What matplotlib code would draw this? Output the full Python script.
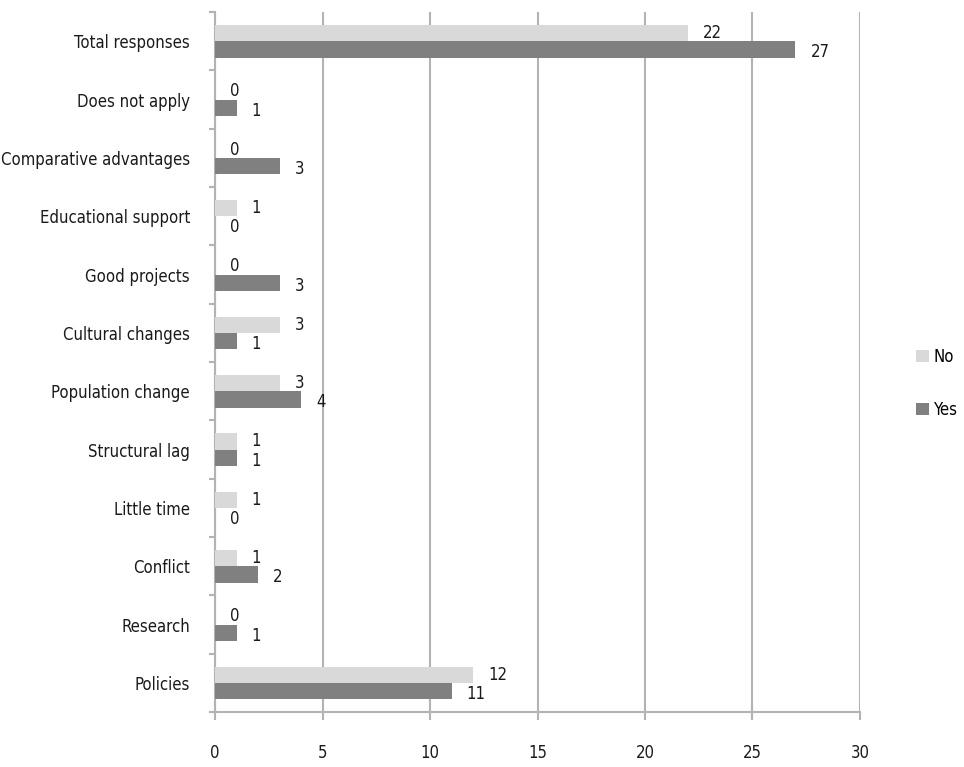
import matplotlib.pyplot as plt
from matplotlib import font_manager
import numpy as np

# use a narrow face if one is installed, else plain Liberation Sans
fam, stretch, fs = 'Liberation Sans', 'normal', 12
for cand in ['Liberation Sans Narrow', 'DejaVu Sans']:
    try:
        p = font_manager.findfont(font_manager.FontProperties(family=cand, stretch='condensed'),
                                  fallback_to_default=False)
    except ValueError:
        continue
    if 'Narrow' in p or 'Condensed' in p:
        fam, stretch, fs = cand, 'condensed', 13 if cand.startswith('Lib') else 12
        break
plt.rcParams['font.family'] = [fam, 'Liberation Sans', 'DejaVu Sans']
plt.rcParams['font.stretch'] = stretch

categories = ["Total responses", "Does not apply", "Comparative advantages",
              "Educational support", "Good projects", "Cultural changes",
              "Population change", "Structural lag", "Little time", "Conflict",
              "Research", "Policies"]
no_vals = [22, 0, 0, 1, 0, 3, 3, 1, 1, 1, 0, 12]
yes_vals = [27, 1, 3, 0, 3, 1, 4, 1, 0, 2, 1, 11]

grid_c = '#b3b3b3'
fig = plt.figure(figsize=(9.64, 7.67), dpi=100)
ax = fig.add_axes([215 / 964, 55 / 767, 645 / 964, 700 / 767])

y = np.arange(len(categories))
h = 0.28
b_no = ax.barh(y - h / 2, no_vals, height=h, color='#d9d9d9', label='No', zorder=3)
b_yes = ax.barh(y + h / 2, yes_vals, height=h, color='#808080', label='Yes', zorder=3)

for bars, vals, dy in [(b_no, no_vals, 0), (b_yes, yes_vals, -3)]:
    for bar, v in zip(bars, vals):
        ax.annotate(str(v), (v, bar.get_y() + bar.get_height() / 2),
                    xytext=(15, dy), textcoords='offset pixels',
                    ha='left', va='center', fontsize=fs, color='#1a1a1a')

ax.set_xlim(0, 30)
ax.set_ylim(len(categories) - 0.5, -0.5)
ax.set_xticks(range(0, 31, 5))
ax.set_yticks(y)
ax.set_yticklabels(categories)
ax.set_yticks(np.arange(-0.5, len(categories), 1), minor=True)
ax.tick_params(axis='y', which='major', length=0, pad=18, labelsize=fs,
               labelcolor='#1a1a1a')
ax.tick_params(axis='y', which='minor', length=4.5, width=1.5, color=grid_c)
ax.tick_params(axis='x', length=5.8, width=1.5, color=grid_c, pad=17,
               labelsize=fs, labelcolor='#1a1a1a')

ax.grid(axis='x', color=grid_c, linewidth=1.5, zorder=0)
for s in ['top', 'right']:
    ax.spines[s].set_visible(False)
for s in ['left', 'bottom']:
    ax.spines[s].set_color(grid_c)
    ax.spines[s].set_linewidth(1.5)

fig.legend(loc='center left', bbox_to_anchor=(916 / 964, 0.5), frameon=False,
           fontsize=fs, handlelength=0.75, handleheight=0.75, handletextpad=0.3,
           labelspacing=2.1, borderpad=0, borderaxespad=0)

fig.savefig('out.png', dpi=100)
